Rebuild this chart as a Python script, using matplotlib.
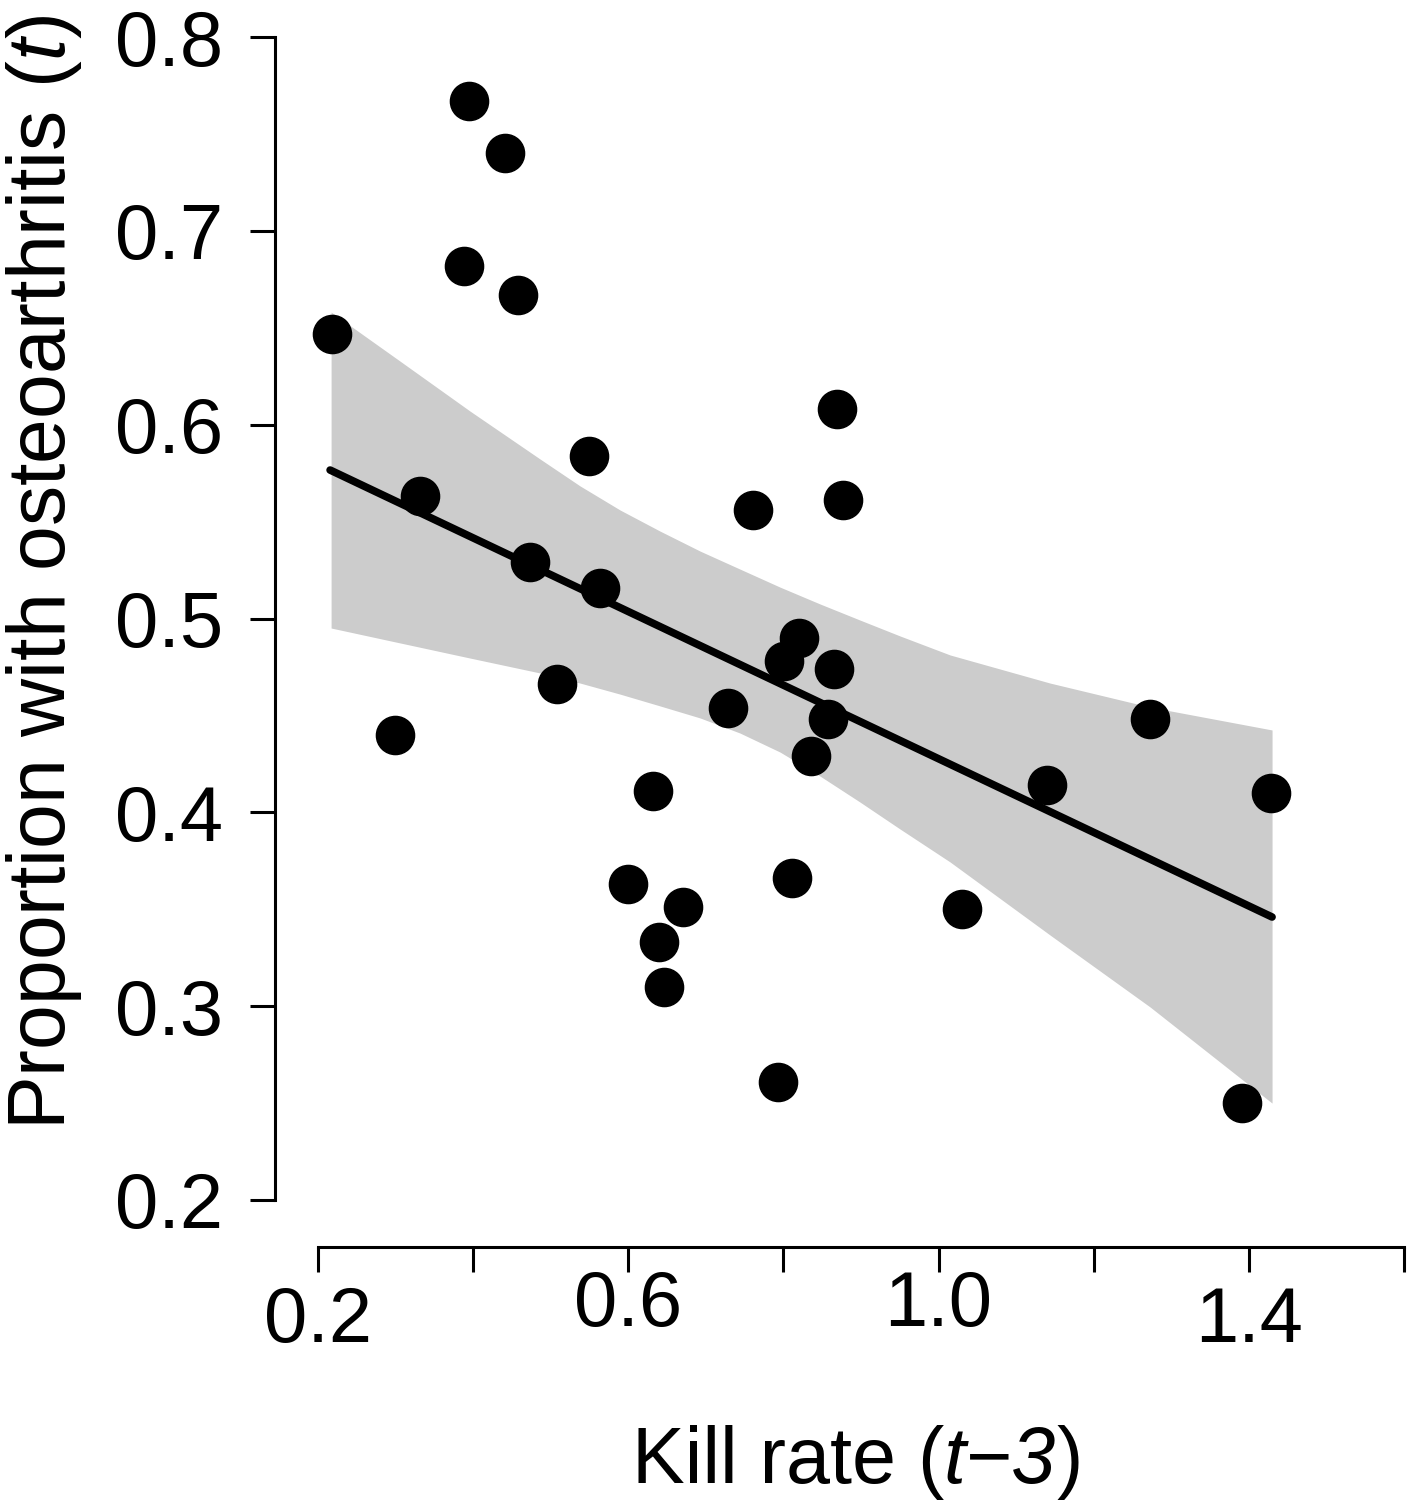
import matplotlib
matplotlib.use('Agg')
import matplotlib.pyplot as plt
from matplotlib.offsetbox import TextArea, HPacker, AnnotationBbox
import numpy as np

# kill rate (t-3) vs proportion with osteoarthritis (t)
kill_rate = [0.218, 0.395, 0.441, 0.388, 0.458, 0.332, 0.299, 0.473,
             0.549, 0.564, 0.508, 0.632, 0.599, 0.639, 0.670, 0.646,
             0.728, 0.761, 0.793, 0.801, 0.820, 0.811, 0.835, 0.865,
             0.857, 0.869, 0.877, 1.030, 1.140, 1.273, 1.391, 1.429]
prop_oa = [0.647, 0.767, 0.740, 0.682, 0.667, 0.563, 0.440, 0.529,
           0.584, 0.516, 0.466, 0.411, 0.363, 0.333, 0.351, 0.310,
           0.454, 0.556, 0.261, 0.478, 0.490, 0.366, 0.429, 0.474,
           0.448, 0.608, 0.561, 0.350, 0.414, 0.448, 0.250, 0.410]

# fitted line (end points)
fit_x = [0.2155, 1.4299]
fit_y = [0.5766, 0.3460]

# confidence band
band_x = [0.2168, 0.3057, 0.3960, 0.4862, 0.5378, 0.5893, 0.6409, 0.6925, 0.7440,
          0.7956, 0.8472, 0.8987, 0.9503, 1.0148, 1.1437, 1.2726, 1.4299]
band_upper = [0.6581, 0.6328, 0.6070, 0.5823, 0.5684, 0.5560, 0.5451, 0.5348, 0.5255,
              0.5162, 0.5075, 0.4992, 0.4910, 0.4812, 0.4667, 0.4543, 0.4425]
band_lower = [0.4951, 0.4874, 0.4796, 0.4719, 0.4667, 0.4610, 0.4549, 0.4487, 0.4409,
              0.4311, 0.4187, 0.4053, 0.3914, 0.3744, 0.3367, 0.2996, 0.2500]

x_ticks = [0.2, 0.4, 0.6, 0.8, 1.0, 1.2, 1.4, 1.6]
x_tick_labels = ['0.2', '', '0.6', '', '1.0', '', '1.4', '']
y_ticks = [0.2, 0.3, 0.4, 0.5, 0.6, 0.7, 0.8]
y_tick_labels = ['0.2', '0.3', '0.4', '0.5', '0.6', '0.7', '0.8']

plt.rcParams['font.family'] = 'Liberation Sans'
plt.rcParams['mathtext.fontset'] = 'custom'
plt.rcParams['mathtext.rm'] = 'Liberation Sans'
plt.rcParams['mathtext.it'] = 'Liberation Sans:italic'

fig = plt.figure(figsize=(14.12, 15.04), dpi=100)
ax = fig.add_axes([0.1945, 0.1712, 0.8306, 0.8351])
ax.set_xlim(0.144, 1.656)
ax.set_ylim(0.176, 0.824)

# band, line, points
ax.fill_between(band_x, band_lower, band_upper, color='#cccccc', linewidth=0, zorder=1)
ax.plot(fit_x, fit_y, color='black', linewidth=5.5, solid_capstyle='round', zorder=2)
ax.plot(kill_rate, prop_oa, 'o', color='black', markersize=27.5, zorder=3)

# R style axes
for side in ['top', 'right']:
    ax.spines[side].set_visible(False)
ax.spines['left'].set_bounds(0.2, 0.8)
ax.spines['bottom'].set_bounds(0.2, 1.6)
for side in ['left', 'bottom']:
    ax.spines[side].set_linewidth(2.2)

ax.set_yticks(y_ticks)
ax.set_yticklabels(y_tick_labels)
ax.set_xticks(x_ticks)
ax.set_xticklabels([])
ax.tick_params(axis='both', direction='out', length=18, width=2.2)
ax.tick_params(axis='y', labelsize=56, pad=19)

# x tick labels sit at two different heights in the original
for i in range(len(x_ticks)):
    if x_tick_labels[i] == '':
        continue
    drop = -16 if x_tick_labels[i] in ('0.6', '1.0') else -28
    ax.annotate(x_tick_labels[i], (x_ticks[i], 0), xycoords=('data', 'axes fraction'),
                xytext=(0, drop), textcoords='offset points',
                ha='center', va='top', fontsize=56)

# x label with italic part
parts = [TextArea('Kill rate (', textprops=dict(fontsize=57)),
         TextArea('t\u22123', textprops=dict(fontsize=57, style='italic')),
         TextArea(')', textprops=dict(fontsize=57))]
xlab = HPacker(children=parts, align='baseline', pad=0, sep=0)
ab = AnnotationBbox(xlab, (857 / 1412, 4 / 1504), xycoords='figure fraction',
                    box_alignment=(0.5, 0), frameon=False, pad=0)
fig.add_artist(ab)

fig.text(44 / 1412, 0.6197, r'Proportion with osteoarthritis ($\mathit{t}$)',
         rotation=90, ha='center', va='center', fontsize=58)

fig.savefig('out.png', dpi=100)
